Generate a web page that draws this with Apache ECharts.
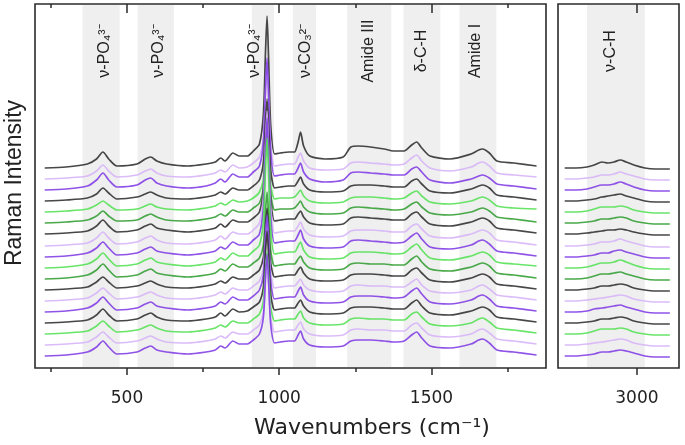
<!DOCTYPE html>
<html><head><meta charset="utf-8">
<script src="https://cdn.jsdelivr.net/npm/echarts@6/dist/echarts.min.js"></script>
<style>html,body{margin:0;padding:0;background:#fff}#c{width:685px;height:445px}</style>
</head><body><div id="c"></div>
<script>
// ---------------- DATA ----------------
const wavenumbers = [230,300,370,400,421,440,467,533,560,578,598,630,700,760,790,808,822,848,868,895,915,935,948,955,960,965,972,985,1003,1032,1050,1062,1070,1080,1100,1150,1210,1235,1260,1300,1345,1375,1410,1435,1451,1468,1495,1560,1630,1655,1668,1690,1715,1770,1845];
const wavenumbersCH = [2763,2800,2836,2860,2885,2905,2925,2945,2965,2990,3026,3060,3108];
const traceOffsets = [200,189,178,167,156,145,134,122,111,100,89,78,67,56,45,34,23,12];
const traceColors = ['black','lightPurple','purple','black','green','darkGreen','black','lightPurple','purple','green','darkGreen','black','lightPurple','purple','black','green','lightPurple','purple'];
const spectraLow = [
 [0,1,4,9,16,9,2,4,9,11, 7,4,2,4,6,10,7,15,12,12, 17,24,54,117,152,110,43,14,15,16, 16,26,36,22,12,9,11,21,22,21, 19,17,17,23,26,20,12,9,14,18, 19,15,7,5,2],
 [0,1,3,8,14,8,2,4,8,10, 6,3,2,4,6,9,7,14,11,12, 16,22,42,87,112,82,34,13,14,15, 15,22,26,18,11,9,10,16,17,16, 15,14,15,21,24,18,11,8,12,16, 17,13,6,4,2],
 [0,1,4,10,17,10,3,5,10,12, 7,4,2,4,7,11,8,16,13,13, 18,24,48,102,132,96,38,14,15,16, 16,22,27,18,11,8,10,17,18,17, 16,15,15,21,23,18,10,7,11,14, 15,12,6,4,1],
 [0,1,3,7,13,8,2,4,7,9, 6,3,2,4,6,9,7,13,11,11, 15,21,39,79,102,75,31,13,14,15, 15,20,24,17,11,9,10,15,16,16, 15,14,14,20,22,17,10,8,12,15, 16,13,6,4,1],
 [0,1,3,7,11,7,2,3,6,8, 5,3,2,4,6,9,7,12,10,11, 14,20,33,64,82,61,27,13,14,14, 15,19,22,16,11,9,10,14,15,15, 14,13,14,19,21,16,10,8,11,14, 15,12,6,4,3],
 [0,1,3,7,12,7,2,3,7,9, 6,3,2,4,6,9,7,13,11,11, 15,20,36,72,92,68,29,13,14,14, 15,19,22,16,11,9,10,15,16,15, 14,13,14,19,21,16,10,8,11,14, 15,12,6,4,1],
 [0,1,3,8,14,8,2,4,8,10, 6,4,2,4,6,10,7,14,12,12, 16,22,45,95,122,89,36,13,14,15, 15,20,23,17,11,9,10,16,17,16, 15,14,14,20,22,17,10,8,12,15, 16,13,6,4,1],
 [0,1,3,8,14,8,2,4,8,10, 6,3,2,4,6,10,7,14,12,12, 16,23,49,104,135,98,39,13,14,15, 15,20,24,17,11,9,10,15,16,16, 15,14,14,20,22,17,10,8,12,15, 16,13,6,4,1],
 [0,1,4,9,15,9,2,4,8,10, 6,4,2,4,6,10,8,15,12,12, 17,23,50,107,139,101,40,14,15,16, 16,22,27,18,11,9,10,16,17,16, 15,14,15,21,24,18,10,8,12,16, 17,13,6,4,1],
 [0,1,4,9,15,9,2,4,8,10, 6,4,2,4,6,10,8,15,12,12, 17,23,47,100,130,95,38,14,15,16, 16,22,26,18,11,9,10,15,16,16, 15,14,15,21,24,18,10,8,12,15, 16,13,6,4,2],
 [0,1,4,9,15,9,2,4,8,10, 6,4,2,4,6,10,8,15,12,12, 16,21,34,68,87,64,28,13,14,15, 15,20,23,17,11,9,10,15,16,15, 15,14,14,20,23,17,10,8,12,15, 16,13,6,4,1],
 [0,1,3,8,13,8,2,4,7,9, 6,3,2,4,6,9,7,13,11,11, 15,20,33,64,82,61,27,13,14,15, 15,20,23,17,11,9,10,15,16,16, 15,14,14,20,22,17,10,8,12,15, 16,13,6,4,1],
 [0,1,3,8,13,8,2,4,7,9, 6,3,2,4,6,9,7,13,11,11, 15,20,33,64,82,61,27,13,14,15, 15,19,22,16,11,9,10,15,16,15, 15,14,14,19,22,16,10,8,11,15, 16,12,6,4,1],
 [0,1,4,9,15,9,2,4,8,10, 6,4,2,4,6,10,8,15,12,12, 16,22,37,76,97,72,31,13,14,15, 15,21,25,17,11,9,10,15,16,16, 15,14,15,21,24,18,10,8,12,16, 17,13,6,4,1],
 [0,1,3,8,14,8,2,4,8,10, 6,3,2,4,6,10,7,14,11,12, 16,21,36,72,92,68,29,13,14,15, 15,20,23,17,11,9,10,15,16,16, 15,14,14,20,23,17,10,8,12,15, 16,13,6,4,1],
 [0,1,3,8,13,8,2,4,7,9, 6,3,2,4,6,9,7,13,11,11, 15,20,33,64,82,61,27,13,14,15, 15,20,23,16,11,9,10,15,16,15, 15,14,14,20,22,17,10,8,11,15, 16,12,6,4,1],
 [0,1,3,8,13,8,2,4,7,9, 6,3,2,4,6,9,7,13,11,11, 15,20,33,64,82,61,27,13,14,15, 15,20,23,16,11,9,10,15,16,15, 15,14,14,20,22,17,10,8,11,15, 16,12,6,4,1],
 [0,1,4,9,15,9,2,4,8,10, 6,4,2,4,6,10,8,15,12,12, 16,22,39,80,102,75,32,13,14,15, 15,21,25,17,11,9,10,15,16,16, 15,14,15,21,24,18,10,8,12,16, 17,13,6,4,1]
];
const spectraCH = [
 [0,0,1,3,6,5,6,8,6,3,0,-1,-1],
 [0,0,1,2,4,4,5,7,5,3,0,-1,-1],
 [0,0,1,3,5,5,6,8,6,3,0,-1,-1],
 [0,0,1,2,4,5,6,7,5,3,0,-1,-1],
 [0,0,1,3,5,5,5,6,5,2,0,-1,-1],
 [0,0,1,2,4,4,5,6,5,2,0,-1,-1],
 [0,0,1,2,3,4,4,5,4,2,0,-1,-1],
 [0,0,1,2,4,4,5,7,5,3,0,-1,-1],
 [0,0,1,2,4,4,6,7,5,3,0,-1,-1],
 [0,0,1,3,5,5,6,8,6,3,0,-1,-1],
 [0,0,1,3,5,5,6,7,5,3,0,-1,-1],
 [0,0,1,2,4,4,5,6,5,2,0,-1,-1],
 [0,0,1,2,3,4,5,6,5,2,0,-1,-1],
 [0,0,1,3,4,5,6,7,5,3,0,-1,-1],
 [0,0,1,2,4,4,5,6,5,2,0,-1,-1],
 [0,0,1,3,5,5,5,6,5,2,0,-1,-1],
 [0,0,1,2,3,4,5,6,5,2,0,-1,-1],
 [0,0,1,2,4,4,5,6,5,3,0,-1,-1]
];
const bandsLow = [[354,476],[535,654],[910,983],[1045,1121],[1223,1368],[1408,1529],[1592,1713]];
const bandsCH = [[2836,3026]];
const bandLabelsLow = ['ν-PO₄³⁻','ν-PO₄³⁻','ν-PO₄³⁻','ν-CO₃²⁻','Amide III','δ-C-H','Amide I'];
const bandLabelPosLow = [427,604,920,1088,1294,1469,1645];
const bandLabelsCH = ['ν-C-H'];
const bandLabelPosCH = [2914];
const ticksMajorLow = [500,1000,1500];
const ticksMinorLow = [250,750,1250,1750];
const ticksCH = [3000];

// ---------------- STYLE / LAYOUT ----------------
const palette = {black:'#333333', lightPurple:'#d7b5f7', purple:'#8440e6', green:'#58e258', darkGreen:'#36a036'};
const Y_MIN = 0, Y_MAX = 364, LABEL_Y = 317;
const frame = '#2b2b2b';

const chart = echarts.init(document.getElementById('c'));

function bandRender(params, api){
  const a = api.coord([api.value(0), Y_MAX]);
  const b = api.coord([api.value(1), Y_MIN]);
  return {type:'rect', shape:{x:a[0], y:a[1]+1, width:b[0]-a[0], height:b[1]-a[1]-2}, style:{fill:'#efefef'}};
}
function labelRender(texts){
  return function(params, api){
    const p = api.coord([api.value(0), LABEL_Y]);
    return {type:'text', x:p[0], y:p[1], rotation:Math.PI/2,
      style:{text:texts[params.dataIndex], fontSize:16, fontFamily:'Liberation Sans, Arial, sans-serif', fill:'#222',
        align:'center', verticalAlign:'middle', textAlign:'center', textVerticalAlign:'middle'}};
  };
}

const tickLab = {fontSize:17, fontFamily:'DejaVu Sans', color:'#222', margin:22, formatter:function(v){return String(v);}};
function xAx(grid, min, max, pos, ticks, len, inside, labels){
  return {type:'value', gridIndex:grid, min:min, max:max, position:pos, z:5,
    axisLine:{show:false}, splitLine:{show:false},
    axisTick:{show:true, customValues:ticks, length:len, inside:inside, lineStyle:{color:frame, width:1.5}},
    axisLabel: labels ? Object.assign({show:true, customValues:ticks}, tickLab) : {show:false}};
}

const series = [];
series.push({type:'custom', xAxisIndex:0, yAxisIndex:0, data:bandsLow, encode:{x:[0,1]}, renderItem:bandRender, z:1, silent:true});
series.push({type:'custom', xAxisIndex:4, yAxisIndex:1, data:bandsCH, encode:{x:[0,1]}, renderItem:bandRender, z:1, silent:true});
for (let i = 0; i < spectraLow.length; i++) {
  const col = palette[traceColors[i]];
  series.push({type:'line', xAxisIndex:0, yAxisIndex:0, symbol:'none', smooth:0.25, silent:true, z:2,
    lineStyle:{color:col, width:1.7, opacity:0.9},
    data: wavenumbers.map((w, j) => [w, traceOffsets[i] + spectraLow[i][j]])});
  series.push({type:'line', xAxisIndex:4, yAxisIndex:1, symbol:'none', smooth:0.3, silent:true, z:2,
    lineStyle:{color:col, width:1.7, opacity:0.9},
    data: wavenumbersCH.map((w, j) => [w, traceOffsets[i] + spectraCH[i][j]])});
}
series.push({type:'custom', xAxisIndex:0, yAxisIndex:0, data:bandLabelPosLow.map(v=>[v]), encode:{x:0}, renderItem:labelRender(bandLabelsLow), z:4, silent:true});
series.push({type:'custom', xAxisIndex:4, yAxisIndex:1, data:bandLabelPosCH.map(v=>[v]), encode:{x:0}, renderItem:labelRender(bandLabelsCH), z:4, silent:true});

chart.setOption({
  animation:false,
  backgroundColor:'#fff',
  grid:[
    {left:35, right:139, top:4, bottom:77, show:true, borderColor:frame, borderWidth:1.6, backgroundColor:'transparent', z:5},
    {left:558, right:6, top:4, bottom:77, show:true, borderColor:frame, borderWidth:1.6, backgroundColor:'transparent', z:5}
  ],
  xAxis:[
    xAx(0,198,1876,'bottom',ticksMajorLow,7,false,true),
    xAx(0,198,1876,'bottom',ticksMinorLow,4,false,false),
    xAx(0,198,1876,'top',ticksMajorLow,9,true,false),
    xAx(0,198,1876,'top',ticksMinorLow,4,true,false),
    xAx(1,2741,3138,'bottom',ticksCH,7,false,true),
    xAx(1,2741,3138,'top',ticksCH,9,true,false)
  ],
  yAxis:[
    {type:'value', gridIndex:0, min:Y_MIN, max:Y_MAX, show:false},
    {type:'value', gridIndex:1, min:Y_MIN, max:Y_MAX, show:false}
  ],
  graphic:[
    {type:'text', x:372, y:428, z:10, style:{text:'Wavenumbers (cm⁻¹)', fontSize:22, fontFamily:'DejaVu Sans', fill:'#222', align:'center', verticalAlign:'middle', textAlign:'center', textVerticalAlign:'middle'}},
    {type:'text', x:15, y:183, rotation:Math.PI/2, z:10, style:{text:'Raman Intensity', fontSize:23, fontFamily:'Liberation Sans', fill:'#222', align:'center', verticalAlign:'middle', textAlign:'center', textVerticalAlign:'middle'}}
  ],
  series: series
});
</script></body></html>
